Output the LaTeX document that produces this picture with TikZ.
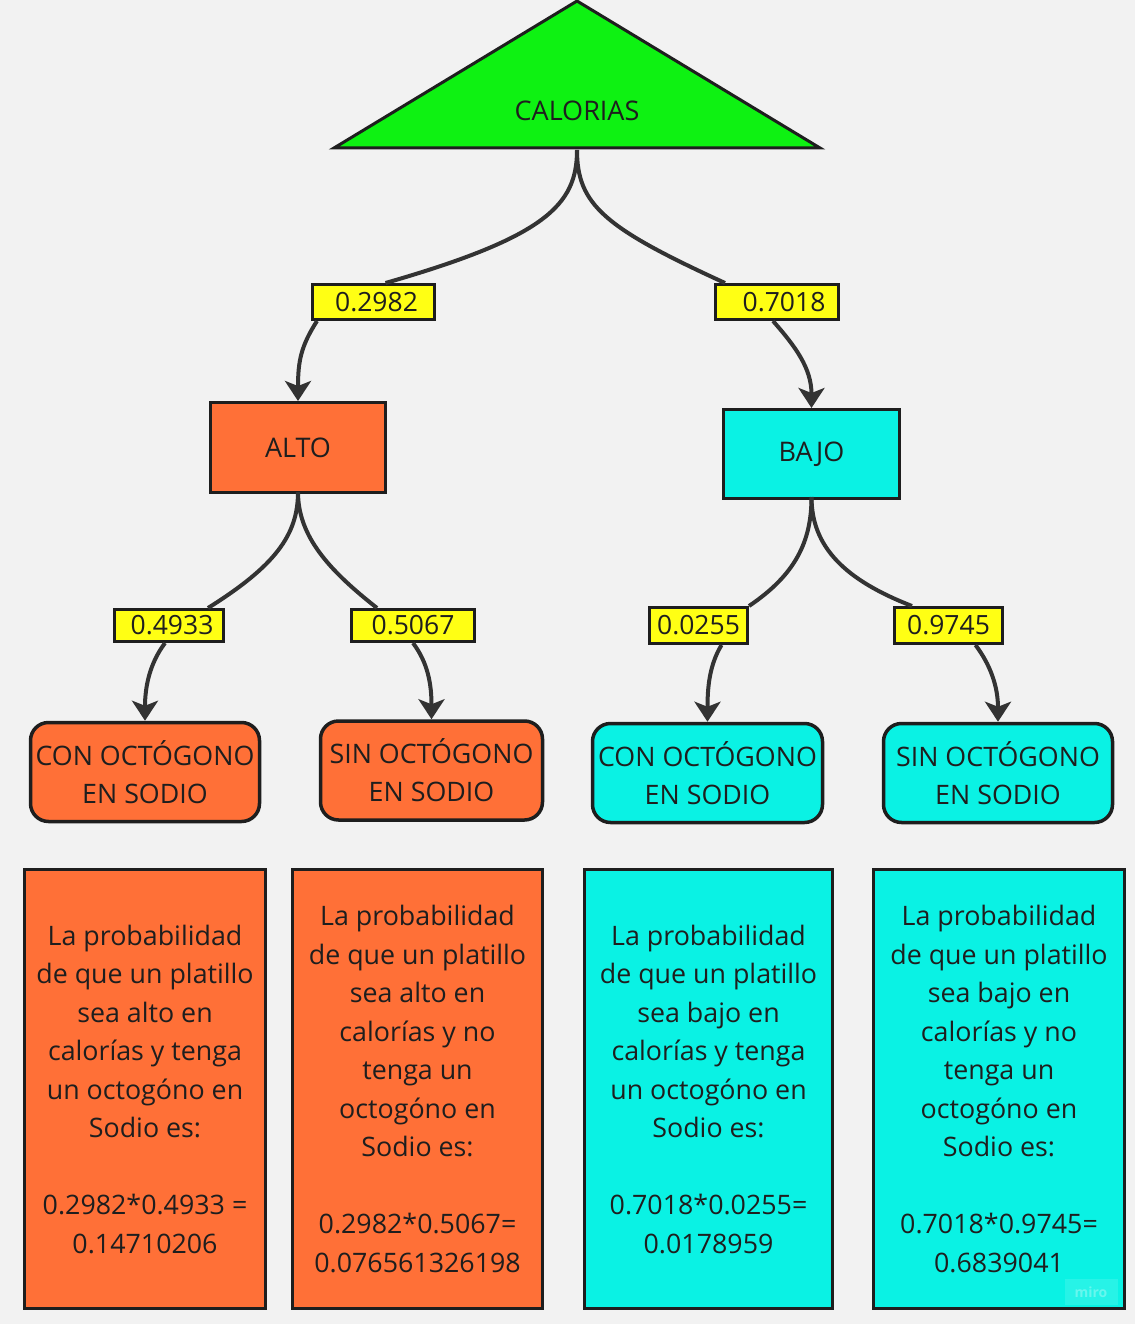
\documentclass[tikz,border=0pt]{standalone}
\usepackage{fontspec}
\setmainfont{Open Sans}
\usetikzlibrary{arrows.meta}
\definecolor{paper}{HTML}{F2F2F2}
\definecolor{ink}{HTML}{1E1E1E}
\definecolor{wire}{HTML}{333333}
\definecolor{rootgreen}{RGB}{14,242,18}
\definecolor{highorange}{RGB}{255,112,55}
\definecolor{lowcyan}{RGB}{10,242,228}
\definecolor{probyellow}{RGB}{255,255,20}
\tikzset{
  probtag/.style={draw=ink, line width=3pt, fill=probyellow, inner sep=0pt,
    font=\fontsize{26.5pt}{30pt}\selectfont, text=ink},
  levelbox/.style={draw=ink, line width=3pt, inner sep=0pt,
    font=\fontsize{27pt}{30pt}\selectfont, text=ink},
  leafbox/.style={draw=ink, line width=3.5pt, rounded corners=18pt, inner sep=0pt,
    align=center, font=\fontsize{26.8pt}{38pt}\selectfont, text=ink,
    minimum height=99pt},
  resultbox/.style={draw=ink, line width=3pt, inner sep=0pt, align=center,
    font=\fontsize{26.8pt}{38.5pt}\selectfont, text=ink, minimum height=439pt},
  fork/.style={draw=wire, line width=4pt},
  branch/.style={draw=wire, line width=4pt,
    -{Stealth[length=20pt,width=26pt,inset=5pt]}},
}
\begin{document}
\begin{tikzpicture}[x=1pt,y=-1pt]
  % page
  \fill[paper] (0,0) rectangle (1135,1324);
  \useasboundingbox (0,0) rectangle (1135,1324);

  % root triangle
  \filldraw[fill=rootgreen, draw=ink, line width=3pt, line join=miter]
    (577,1) -- (820,148) -- (334,148) -- cycle;
  \node[font=\fontsize{27pt}{30pt}\selectfont, text=ink] (root) at (577,111) {CALORIAS};
  \coordinate (rootbase) at (577,150);

  % probability tags, first level
  \node[probtag, minimum width=122pt, minimum height=35pt] (p1) at (373.5,302)
    {\hspace*{6pt}0.2982};
  \node[probtag, minimum width=123pt, minimum height=35pt] (p2) at (777,302)
    {\hspace*{14pt}0.7018};

  % first level
  \node[levelbox, fill=highorange, minimum width=175pt, minimum height=90pt] (alto) at (298,447.5) {ALTO};
  \node[levelbox, fill=lowcyan, minimum width=176pt, minimum height=89pt] (bajo) at (811.5,454) {BAJO};

  % probability tags, second level
  \node[probtag, minimum width=109pt, minimum height=32pt] (q1) at (169,625.5) {\hspace*{6pt}0.4933};
  \node[probtag, minimum width=123pt, minimum height=32pt] (q2) at (413,625.5) {0.5067};
  \node[probtag, minimum width=98pt, minimum height=36pt] (q3) at (698.5,625.5) {0.0255};
  \node[probtag, minimum width=108pt, minimum height=36pt] (q4) at (948.5,625.5) {0.9745};

  % leaves
  \node[leafbox, fill=highorange, minimum width=229pt] (l1) at (145,772) {CON OCTÓGONO\\EN SODIO};
  \node[leafbox, fill=highorange, minimum width=222pt] (l2) at (431.5,770.5) {SIN OCTÓGONO\\EN SODIO};
  \node[leafbox, fill=lowcyan, minimum width=230pt] (l3) at (707.5,773) {CON OCTÓGONO\\EN SODIO};
  \node[leafbox, fill=lowcyan, minimum width=229pt] (l4) at (998,773) {SIN OCTÓGONO\\EN SODIO};

  % results
  \node[resultbox, fill=highorange, minimum width=241pt] (r1) at (145,1089)
    {La probabilidad\\de que un platillo\\sea alto en\\calorías y tenga\\un octogóno en\\Sodio es:\\[38.5pt]0.2982*0.4933 =\\0.14710206};
  \node[resultbox, fill=highorange, minimum width=250pt] (r2) at (417.5,1089)
    {La probabilidad\\de que un platillo\\sea alto en\\calorías y no\\tenga un\\octogóno en\\Sodio es:\\[38.5pt]0.2982*0.5067=\\0.076561326198};
  \node[resultbox, fill=lowcyan, minimum width=248pt] (r3) at (708.5,1089)
    {La probabilidad\\de que un platillo\\sea bajo en\\calorías y tenga\\un octogóno en\\Sodio es:\\[38.5pt]0.7018*0.0255=\\0.0178959};
  \node[resultbox, fill=lowcyan, minimum width=251pt] (r4) at (999,1089)
    {La probabilidad\\de que un platillo\\sea bajo en\\calorías y no\\tenga un\\octogóno en\\Sodio es:\\[38.5pt]0.7018*0.9745=\\0.6839041};

  % watermark
  \fill[white, opacity=0.12] (1065,1279) rectangle (1118,1305);
  \node[font=\fontsize{14pt}{16pt}\selectfont\bfseries, text=white, opacity=0.3] (mark) at (1091,1292) {miro};

  % forks from root
  \draw[fork] (rootbase) .. controls +(0,55) and +(160,-46) .. ([xshift=12pt]p1.north);
  \draw[fork] (rootbase) .. controls +(0,55) and +(-120,-55) .. ([xshift=11pt]p2.north west);
  % arrows into first level
  \draw[branch] ([xshift=6pt]p1.south west) .. controls +(-16,25) and +(0,-40) .. (alto.north);
  \draw[branch] ([xshift=-4pt]p2.south) .. controls +(22,25) and +(0,-40) .. (bajo.north);

  % forks from first level
  \draw[fork] ([yshift=2pt]alto.south) .. controls +(0,43) and +(67,-42) .. ([xshift=39pt]q1.north);
  \draw[fork] ([yshift=2pt]alto.south) .. controls +(0,45) and +(-47,-37) .. ([xshift=-36pt]q2.north);
  \draw[fork] ([yshift=3pt]bajo.south) .. controls +(0,45) and +(46,-31) .. (q3.north east);
  \draw[fork] ([yshift=3pt]bajo.south) .. controls +(0,50) and +(-67,-26) .. ([xshift=19pt]q4.north west);
  % arrows into leaves
  \draw[branch] ([xshift=-4pt]q1.south) .. controls +(-15,20) and +(0,-35) .. (l1.north);
  \draw[branch] (q2.south) .. controls +(15,20) and +(0,-35) .. (l2.north);
  \draw[branch] ([xshift=23pt]q3.south) .. controls +(-12,20) and +(0,-35) .. (l3.north);
  \draw[branch] ([xshift=27pt]q4.south) .. controls +(15,20) and +(0,-35) .. (l4.north);
\end{tikzpicture}
\end{document}
